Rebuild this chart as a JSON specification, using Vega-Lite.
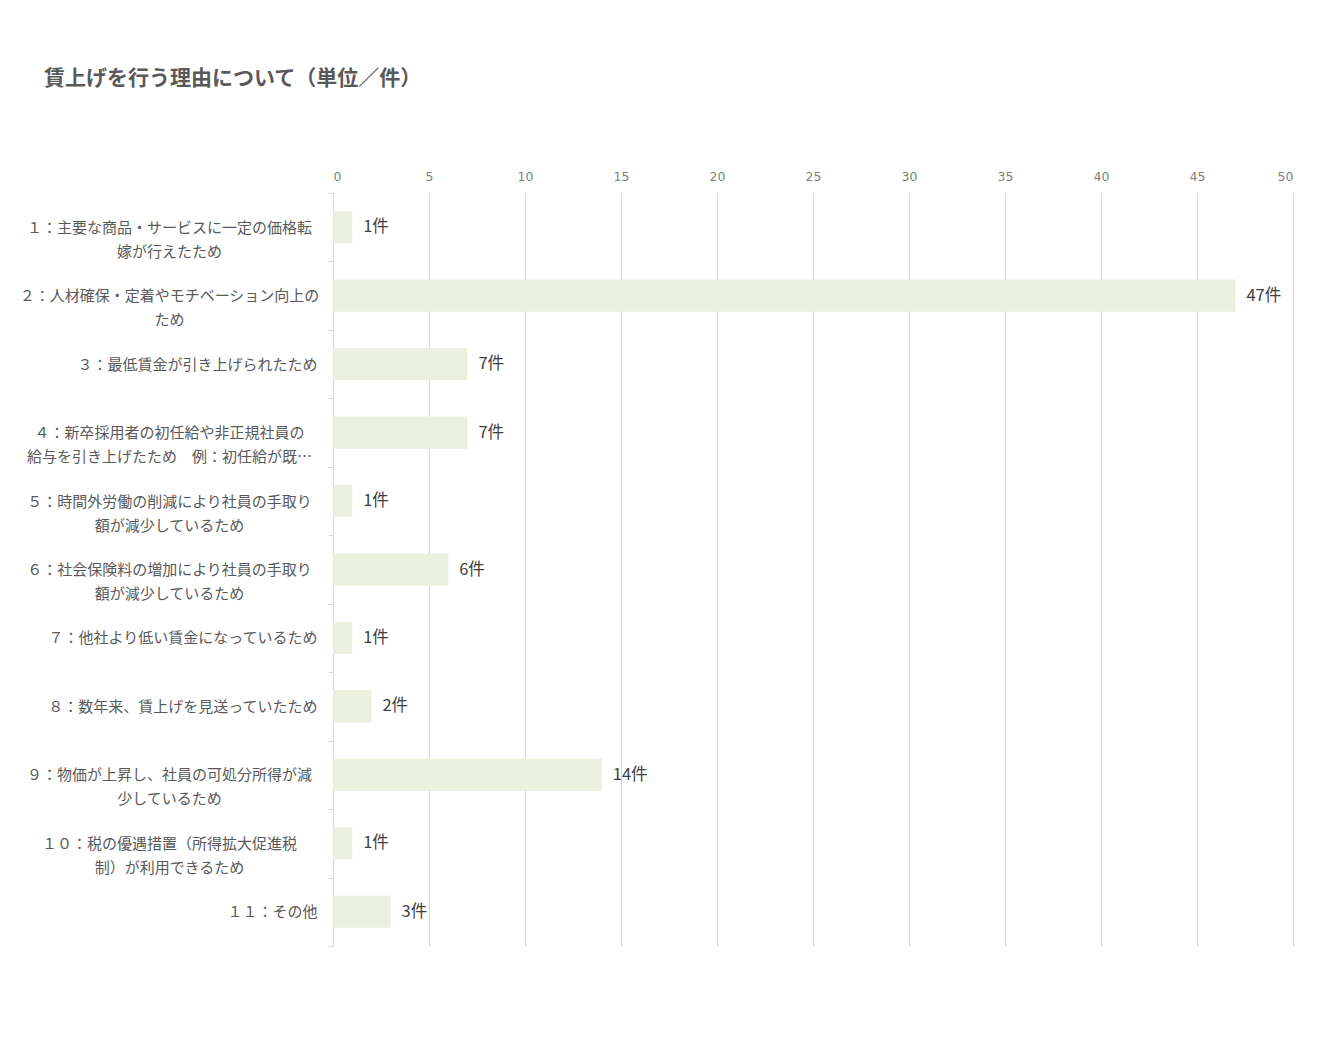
{
  "$schema": "https://vega.github.io/schema/vega-lite/v6.json",
  "width": 960,
  "height": 753,
  "autosize": {"type": "none"},
  "padding": {"left": 333, "top": 193, "right": 31, "bottom": 98},
  "background": "#ffffff",
  "title": {
    "text": "賃上げを行う理由について（単位／件）",
    "anchor": "start",
    "frame": "group",
    "dx": -289,
    "offset": 81,
    "font": "Noto Sans CJK JP",
    "fontSize": 21,
    "fontWeight": "bold",
    "color": "#595959"
  },
  "data": {
    "values": [
      {"label": "１：主要な商品・サービスに一定の価格転|嫁が行えたため", "count": 1, "text": "1件"},
      {"label": "２：人材確保・定着やモチベーション向上の|ため", "count": 47, "text": "47件"},
      {"label": "３：最低賃金が引き上げられたため", "count": 7, "text": "7件"},
      {"label": "４：新卒採用者の初任給や非正規社員の|給与を引き上げたため　例：初任給が既…", "count": 7, "text": "7件"},
      {"label": "５：時間外労働の削減により社員の手取り|額が減少しているため", "count": 1, "text": "1件"},
      {"label": "６：社会保険料の増加により社員の手取り|額が減少しているため", "count": 6, "text": "6件"},
      {"label": "７：他社より低い賃金になっているため", "count": 1, "text": "1件"},
      {"label": "８：数年来、賃上げを見送っていたため", "count": 2, "text": "2件"},
      {"label": "９：物価が上昇し、社員の可処分所得が減|少しているため", "count": 14, "text": "14件"},
      {"label": "１０：税の優遇措置（所得拡大促進税|制）が利用できるため", "count": 1, "text": "1件"},
      {"label": "１１：その他", "count": 3, "text": "3件"}
    ]
  },
  "encoding": {
    "y": {
      "field": "label",
      "type": "nominal",
      "sort": null,
      "scale": {"paddingInner": 0, "paddingOuter": 0},
      "axis": {
        "title": null,
        "labelExpr": "isValid(datum.value) ? split(datum.value, '|') : ''",
        "labelFont": "Noto Sans CJK JP",
        "labelFontSize": 15,
        "labelColor": "#595959",
        "labelLineHeight": 24,
        "labelLimit": 400,
        "labelAlign": {"condition": {"test": "isValid(datum.value) && indexof(datum.value, '|') >= 0", "value": "center"}, "value": "right"},
        "labelPadding": 11,
        "encoding": {
          "labels": {
            "dx": {"condition": {"test": "isValid(datum.value) && indexof(datum.value, '|') >= 0", "value": -148}, "value": 0}
          }
        },
        "tickBand": "extent",
        "tickSize": 5,
        "tickColor": "#d9d9d9",
        "domainColor": "#d9d9d9",
        "domainWidth": 1,
        "grid": false
      }
    },
    "x": {
      "field": "count",
      "type": "quantitative",
      "scale": {"domain": [0, 50], "nice": false},
      "axis": {
        "orient": "top",
        "title": null,
        "values": [0, 5, 10, 15, 20, 25, 30, 35, 40, 45, 50],
        "ticks": false,
        "domain": false,
        "labelPadding": 10,
        "labelFont": "DejaVu Sans",
        "labelFontSize": 12.5,
        "labelColor": "#808080",
        "grid": true,
        "gridColor": "#d9d9d9",
        "gridWidth": 1.2
      }
    }
  },
  "layer": [
    {
      "mark": {"type": "bar", "color": "#ebf1de", "height": {"band": 0.47}}
    },
    {
      "mark": {"type": "text", "align": "left", "baseline": "middle", "dx": 11, "font": "Noto Sans CJK JP", "fontSize": 16.5, "color": "#404040"},
      "encoding": {"text": {"field": "text"}}
    }
  ],
  "config": {"view": {"stroke": null}}
}
